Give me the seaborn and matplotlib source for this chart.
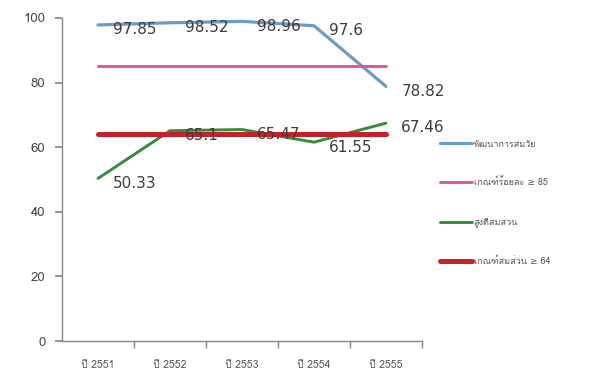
import matplotlib
matplotlib.use("Agg")
import matplotlib.pyplot as plt
from matplotlib import font_manager
from matplotlib.ft2font import FT2Font
import seaborn as sns
import pandas as pd

years = ["ปี 2551", "ปี 2552", "ปี 2553", "ปี 2554", "ปี 2555"]
development = [97.85, 98.52, 98.96, 97.6, 78.82]
development_target = [85, 85, 85, 85, 85]
proportion = [50.33, 65.1, 65.47, 61.55, 67.46]
proportion_target = [64, 64, 64, 64, 64]
series_names = ["พัฒนาการสมวัย", "เกณฑ์ร้อยละ ≥ 85", "สูงดีสมส่วน", "เกณฑ์สมส่วน ≥ 64"]


def thai_family():
    for f in font_manager.fontManager.ttflist:
        try:
            if ord("ก") in FT2Font(f.fname).get_charmap():
                return f.name
        except Exception:
            continue
    return None


sns.set_theme(style="white")
fam = thai_family()
families = ([fam] if fam else []) + ["DejaVu Sans"]
plt.rcParams["font.family"] = families

fig = plt.figure(figsize=(5.96, 3.81), dpi=100)
ax = fig.add_axes([62 / 596, 40 / 381, 360 / 596, 323 / 381])

df = pd.DataFrame({"year": years, "dev": development, "dev_t": development_target,
                   "prop": proportion, "prop_t": proportion_target})
colors = ["#6a9bc6", "#e0529f", "#358c3b", "#c3222c"]
widths = [2.3, 2.1, 2.1, 3.6]
cols = ["dev", "dev_t", "prop", "prop_t"]
for col, c, w, name in zip(cols, colors, widths, series_names):
    sns.lineplot(data=df, x="year", y=col, color=c, lw=w, ax=ax, label=name,
                 sort=False)

label_color = "#3c3c3c"
for values in (development, proportion):
    for i, v in enumerate(values):
        ax.annotate(f"{v:g}", (i, v), xytext=(11, -3.5), textcoords="offset points",
                    va="center", ha="left", fontsize=11, color=label_color,
                    family="DejaVu Sans")

ax.set_xlim(-0.5, 4.5)
ax.set_ylim(0, 100)
ax.set_yticks([0, 20, 40, 60, 80, 100])
ax.set_xlabel("")
ax.set_ylabel("")
for s in ["top", "right"]:
    ax.spines[s].set_visible(False)
for s in ["left", "bottom"]:
    ax.spines[s].set_color("#868686")
    ax.spines[s].set_linewidth(1)
ax.tick_params(axis="y", which="major", left=True, length=5, color="#868686",
               labelsize=9.5, labelcolor="#444444", pad=7)
ax.tick_params(axis="x", which="major", bottom=False, labelsize=7.5,
               labelcolor="#555555", pad=8)
ax.set_xticks([0.5, 1.5, 2.5, 3.5, 4.5], minor=True)
ax.tick_params(axis="x", which="minor", bottom=True, length=5, color="#868686")

ax.get_legend().remove()
handles, labels = ax.get_legend_handles_labels()
fig.legend(handles, labels, loc="upper left", bbox_to_anchor=(0.725, 0.655),
           frameon=False, fontsize=6.5, labelspacing=3.2, handlelength=3.5,
           handletextpad=0.2, labelcolor="#555555")

fig.savefig("out.png", dpi=100)
